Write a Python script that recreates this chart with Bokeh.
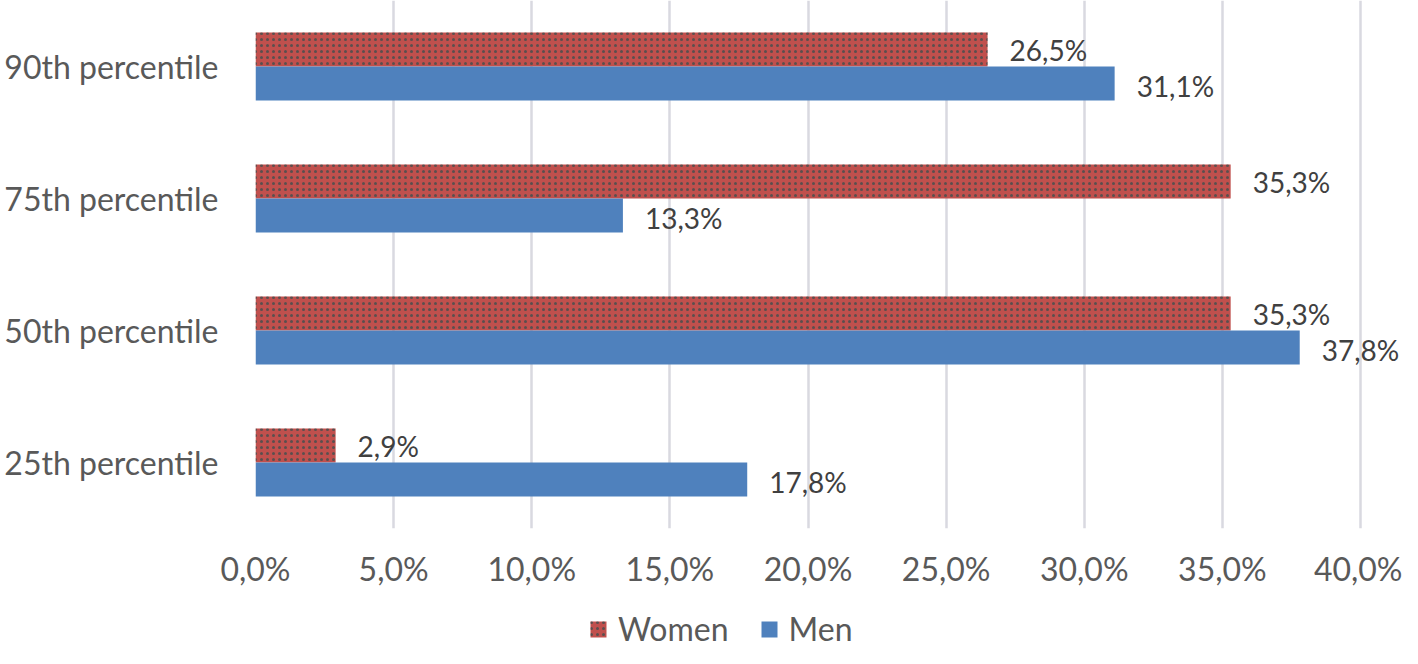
from bokeh.plotting import figure
from bokeh.layouts import column
from bokeh.models import ColumnDataSource, FixedTicker, Legend, LegendItem, Range1d
from bokeh.transform import dodge
from bokeh.core.properties import value
from bokeh.embed import file_html
from bokeh.resources import INLINE

categories = ["25th percentile", "50th percentile", "75th percentile", "90th percentile"]
women = [2.9, 35.3, 35.3, 26.5]
men = [17.8, 37.8, 13.3, 31.1]
x_ticks = [0, 5, 10, 15, 20, 25, 30, 35, 40]

FONT = "Lato"
RED = "#C0504D"
BLUE = "#4F81BD"
HATCH = dict(hatch_pattern="dot", hatch_color="#2F4F4F", hatch_scale=6, hatch_weight=0.9, hatch_alpha=0.7)

ypos = list(range(len(categories)))
src = ColumnDataSource(dict(
    y=ypos,
    women=women,
    men=men,
    wlab=[f"{v:.1f}".replace(".", ",") + "%" for v in women],
    mlab=[f"{v:.1f}".replace(".", ",") + "%" for v in men],
))

W = 1402
FRAME_L = 255
FRAME_R40 = 1360
pxper = (FRAME_R40 - FRAME_L) / 40.0
x_end = 40 + (W - FRAME_R40) / pxper

p = figure(width=W, height=600, output_backend="svg", toolbar_location=None,
           x_range=Range1d(0, x_end), y_range=Range1d(-0.5, 3.5),
           min_border_left=FRAME_L, min_border_right=0, min_border_top=0, min_border_bottom=72)
p.outline_line_color = None

off = 0.1288
h = 0.2576
rw = p.hbar(y=dodge("y", off), right="women", left=0, height=h, source=src,
            fill_color=RED, line_color=None, **HATCH)
rm = p.hbar(y=dodge("y", -off), right="men", left=0, height=h, source=src,
            fill_color=BLUE, line_color=None)

p.text(x="women", y=dodge("y", off), text="wlab", source=src, x_offset=22, y_offset=1,
       text_font=value(FONT), text_font_size="28px", text_color="#404040",
       text_align="left", text_baseline="middle")
p.text(x="men", y=dodge("y", -off), text="mlab", source=src, x_offset=22, y_offset=2,
       text_font=value(FONT), text_font_size="28px", text_color="#404040",
       text_align="left", text_baseline="middle")

p.xaxis.ticker = FixedTicker(ticks=x_ticks)
p.xaxis.major_label_overrides = {t: f"{t:.1f}".replace(".", ",") + "%" for t in x_ticks}
p.yaxis.ticker = FixedTicker(ticks=ypos)
p.yaxis.major_label_overrides = {i: c for i, c in enumerate(categories)}
for ax in (p.xaxis[0], p.yaxis[0]):
    ax.axis_line_color = None
    ax.major_tick_line_color = None
    ax.minor_tick_line_color = None
    ax.major_tick_out = 0
    ax.major_label_text_font = FONT
    ax.major_label_text_font_size = "32px"
    ax.major_label_text_color = "#595959"
p.xaxis.major_label_standoff = 20
p.yaxis.major_label_standoff = 37

p.ygrid.grid_line_color = None
p.xgrid.grid_line_color = "#D9D9E0"
p.xgrid.grid_line_width = 2.5

# legend strip below the chart (its bars lie outside its visible range; only the legend shows)
lf = figure(width=W, height=48, output_backend="svg", toolbar_location=None,
            x_range=Range1d(0, 1), y_range=Range1d(100, 101),
            x_axis_type=None, y_axis_type=None,
            min_border_left=0, min_border_right=0, min_border_top=0, min_border_bottom=0)
lf.outline_line_color = None
lf.xgrid.visible = False
lf.ygrid.visible = False
lw = lf.hbar(y="y", right="women", left=0, height=0.5, source=src, fill_color=RED, line_color=None, **HATCH)
lm = lf.hbar(y="y", right="men", left=0, height=0.5, source=src, fill_color=BLUE, line_color=None)
legend = Legend(items=[LegendItem(label="Women", renderers=[lw], index=0),
                       LegendItem(label="Men", renderers=[lm], index=0)],
                orientation="horizontal", location=(333, 0),
                label_text_font=FONT, label_text_font_size="32px", label_text_color="#595959",
                label_text_baseline="middle",
                glyph_width=20, glyph_height=20, label_height=20, label_standoff=10,
                spacing=30, padding=0, margin=0, border_line_color=None,
                background_fill_alpha=0)
lf.add_layout(legend, "center")

layout = column(p, lf, spacing=0)
open("out.html", "w").write(file_html(layout, INLINE))
